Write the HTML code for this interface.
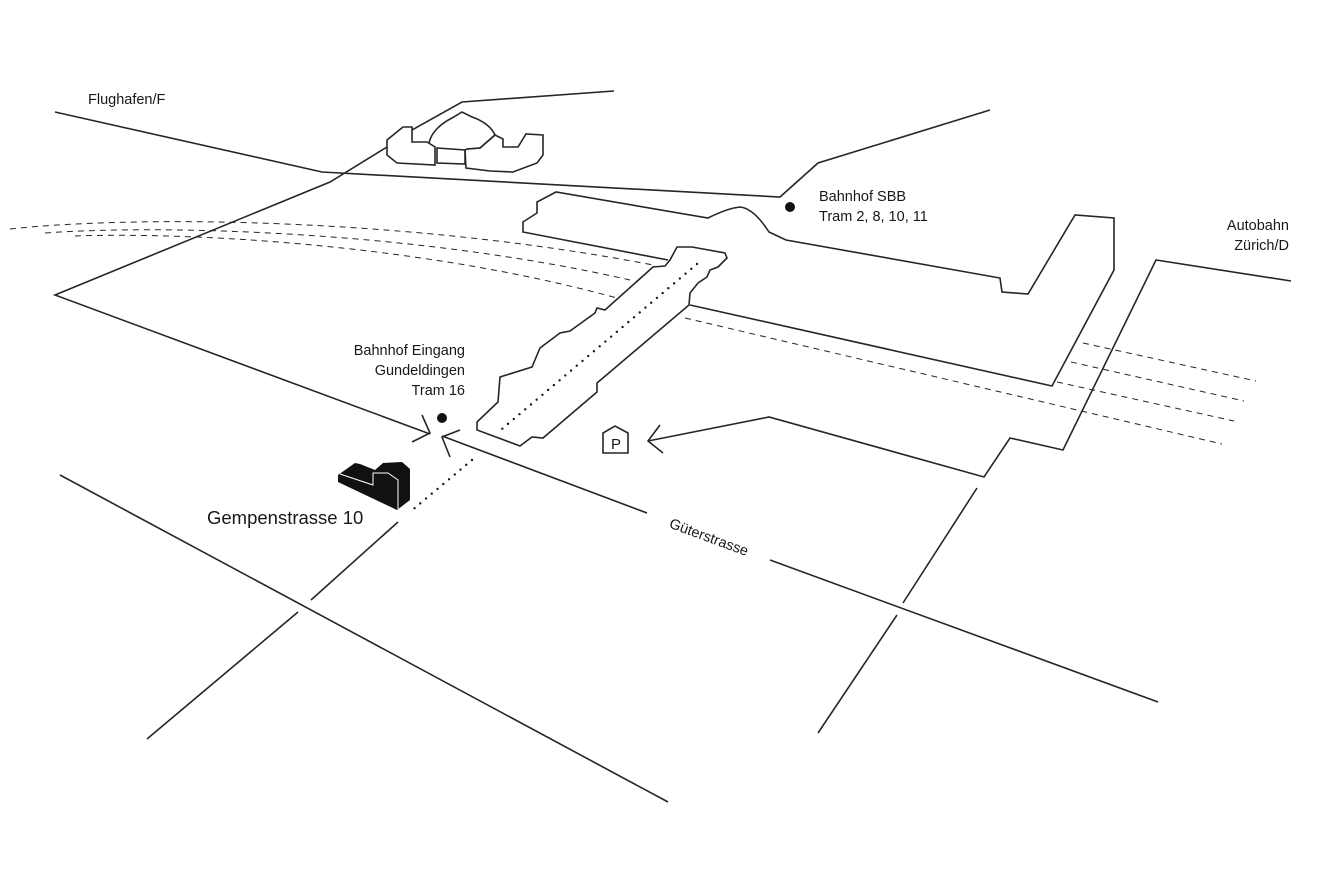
<!DOCTYPE html>
<html><head><meta charset="utf-8"><style>
html,body{margin:0;padding:0;background:#fff;}
svg{display:block;}
text{font-family:"Liberation Sans",sans-serif;fill:#1a1714;}
</style></head><body>
<svg width="1319" height="880" viewBox="0 0 1319 880" xmlns="http://www.w3.org/2000/svg">
<g fill="none" stroke="#2a2522" stroke-width="1.6" stroke-linejoin="miter">
<!-- roads -->
<polyline points="55,112 322,172 780,197 818,163 990,110"/>
<polyline points="614,91 462,102 412,130"/>
<polyline points="387,147 330,182 55,295 430,434"/>
<polyline points="442,436 647,513"/>
<polyline points="770,560 1158,702"/>
<polyline points="398,522 311,600"/>
<polyline points="298,612 147,739"/>
<polyline points="60,475 668,802"/>
<polyline points="977,488 903,603"/>
<polyline points="897,615 818,733"/>
<polyline points="648,441 769,417 984,477 1010,438 1063,450 1156,260 1291,281"/>
<!-- arrows -->
<polyline points="422,415 430,433 412,442"/>
<polyline points="460,430 442,437 450,457"/>
<polyline points="660,425 648,441 663,453"/>
<!-- top building -->
<polygon points="387,140 403,127 412,127 412,142 427,142 435,147 435,165 397,163 387,155"/>
<path d="M429,143 C431,133 440,124 452,118 L462,112 L472,117 C484,121 492,128 495,135 L480,148 L467,149"/>
<polygon points="437,148 465,150 465,164 437,163"/>
<polygon points="465,150 466,168 490,171 513,172 537,163 543,155 543,135 526,134 518,147 503,147 503,139 495,135 480,148 467,149"/>
<!-- station -->
<path d="M668,260 L523,232 L523,222 L537,213 L537,202 L556,192 L708,218 C720,212 730,208 740,207 C750,208 760,218 769,232 L786,240 L1000,278 L1002,292 L1028,294 L1075,215 L1114,218 L1114,270 L1052,386 L690,305"/>
<!-- platform -->
<polygon points="677,247 692,247 725,253 727,258 718,267 710,270 707,277 698,283 690,293 689,305 597,383 597,392 543,438 532,437 520,446 477,430 477,422 498,402 500,377 532,367 540,348 560,333 570,331 595,313 597,308 605,310 653,267 665,266 670,260"/>
<!-- P sign -->
<polygon points="603,433 615,426 628,433 628,453 603,453"/>
</g>
<!-- dashed -->
<g fill="none" stroke="#2a2522" stroke-width="1" stroke-dasharray="6,5">
<path d="M10,229 C150,214 420,220 653,265"/>
<path d="M45,233 C170,224 420,232 630,280"/>
<path d="M75,236 C190,232 420,244 617,298"/>
<line x1="685" y1="318" x2="1222" y2="444"/>
<line x1="1083" y1="343" x2="1256" y2="381"/>
<line x1="1071" y1="362" x2="1244" y2="401"/>
<line x1="1057" y1="382" x2="1234" y2="421"/>
</g>
<!-- dotted -->
<g fill="none" stroke="#1a1714" stroke-width="2.4" stroke-linecap="round" stroke-dasharray="0,7.5">
<line x1="697" y1="264" x2="502" y2="429"/>
<line x1="472" y1="460" x2="410" y2="512"/>
</g>
<circle cx="442" cy="418" r="5" fill="#111"/>
<circle cx="790" cy="207" r="5" fill="#111"/>
<!-- Gempenstrasse building -->
<polygon points="338,475 355,463 360,464 375,470 383,463 402,462 410,469 410,500 397,510 338,482" fill="#111"/>
<polyline points="340,474 373,485 373,473 388,473 398,480 398,509" fill="none" stroke="#fff" stroke-width="1"/>
<!-- text -->
<text x="88" y="104" font-size="14.5">Flughafen/F</text>
<text x="819" y="201" font-size="14.5">Bahnhof SBB</text>
<text x="819" y="221" font-size="14.5">Tram 2, 8, 10, 11</text>
<text x="1289" y="230" font-size="14.5" text-anchor="end">Autobahn</text>
<text x="1289" y="250" font-size="14.5" text-anchor="end">Zürich/D</text>
<text x="465" y="355" font-size="14.5" text-anchor="end">Bahnhof Eingang</text>
<text x="465" y="375" font-size="14.5" text-anchor="end">Gundeldingen</text>
<text x="465" y="395" font-size="14.5" text-anchor="end">Tram 16</text>
<text x="207" y="524" font-size="18.5">Gempenstrasse 10</text>
<text x="616" y="449" font-size="15" text-anchor="middle">P</text>
<text x="709" y="542" font-size="14.5" text-anchor="middle" transform="rotate(20.3 709 537)">Güterstrasse</text>
</svg>
</body></html>
